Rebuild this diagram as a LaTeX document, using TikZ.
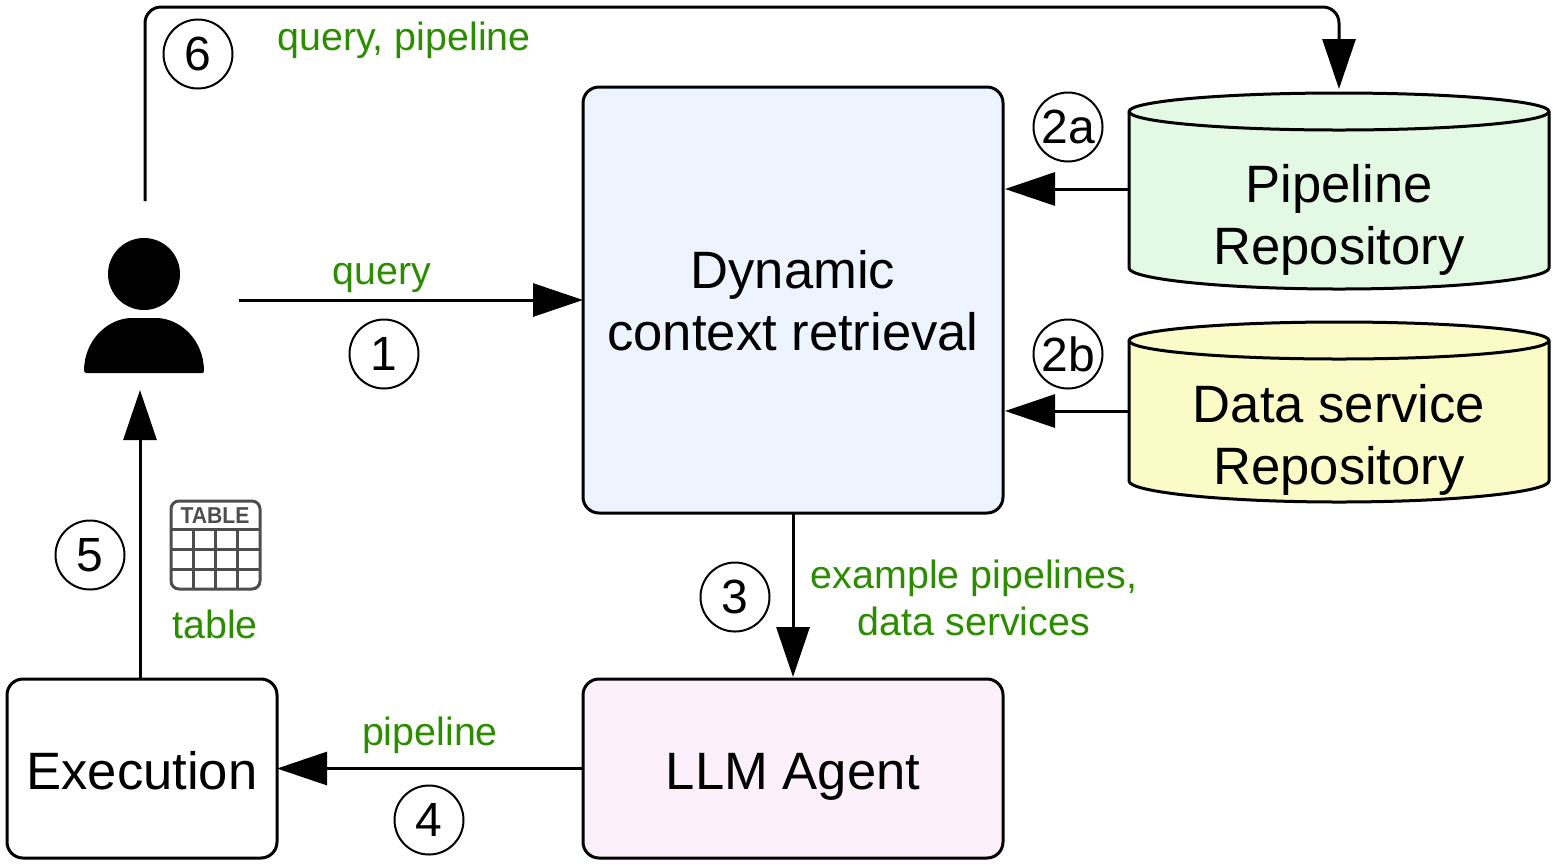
\documentclass[tikz,border=0pt]{standalone}
\usepackage{fontspec}
\setmainfont{Liberation Sans}
\usetikzlibrary{arrows.meta,calc}
\definecolor{lab}{HTML}{2B8C00}
\definecolor{ico}{HTML}{4D4D4D}
\definecolor{dynfill}{HTML}{EDF4FF}
\definecolor{pipefill}{HTML}{E3F9E3}
\definecolor{datafill}{HTML}{FBFBC8}
\definecolor{llmfill}{HTML}{FCF0FB}
\newcommand{\dbcyl}[3]{% fill colour, top y, bottom y
  \draw[line width=1.5pt,fill=#1,line join=round]
    (1129,#2+18.5) .. controls (1129,#2+8.3) and (1223,#2) .. (1339,#2)
    .. controls (1455,#2) and (1549,#2+8.3) .. (1549,#2+18.5)
    -- (1549,#3-21) .. controls (1549,#3-10) and (1455,#3) .. (1339,#3)
    .. controls (1223,#3) and (1129,#3-10) .. (1129,#3-21) -- cycle;
  \draw[line width=1.5pt]
    (1129,#2+18.5) .. controls (1129,#2+28.7) and (1223,#2+37) .. (1339,#2+37)
    .. controls (1455,#2+37) and (1549,#2+28.7) .. (1549,#2+18.5);
}
\tikzset{
  box/.style={draw,line width=1.5pt,rounded corners=8pt,outer sep=0pt,inner sep=0pt,align=center,font=\fontsize{26.3}{31}\selectfont},
  dbtext/.style={align=center,font=\fontsize{26.3}{31}\selectfont,inner sep=0pt},
  dbarea/.style={outer sep=0pt,inner sep=0pt,minimum width=210pt},
  num/.style={circle,draw,line width=1pt,fill=white,minimum size=34.5pt,inner sep=0pt,font=\fontsize{24}{24}\selectfont},
  lbl/.style={text=lab,align=center,inner sep=0pt,font=\fontsize{19.7}{23.5}\selectfont},
  conn/.style={line width=1.5pt,-{Triangle[length=25pt,width=16.5pt]}},
  icoline/.style={draw=ico,line width=1.5pt}
}
\begin{document}
\begin{tikzpicture}[x=0.5pt,y=-0.5pt]
\path[use as bounding box] (0,0) rectangle (1553,864);
\node[box,fill=dynfill,minimum width=210pt,minimum height=213pt] (dyn) at (793,300) {};
\node[inner sep=0pt,align=center,font=\fontsize{26.3}{31}\selectfont] (dynt) at (793,301) {Dynamic\\context retrieval};
\node[box,fill=llmfill,minimum width=210pt,minimum height=89.5pt] (llm) at (793,768.5) {};
\node[inner sep=0pt,font=\fontsize{26.3}{31}\selectfont] (llmt) at (793,777) {LLM Agent};
\node[box,fill=white,minimum width=135pt,minimum height=89.5pt] (exec) at (142,768.5) {};
\node[inner sep=0pt,font=\fontsize{26.3}{31}\selectfont] (exect) at (142,771) {Execution};
\dbcyl{pipefill}{93}{289}
\dbcyl{datafill}{322}{502}
\node[dbarea,minimum height=98pt] (pipe) at (1339,191) {};
\node[dbarea,minimum height=90pt] (data) at (1339,412) {};
\node[dbtext] (pipet) at (1339,220) {Pipeline\\Repository};
\node[dbtext] (datat) at (1339,440) {Data service\\Repository};
% person
\node[circle,fill=black,minimum size=36pt,inner sep=0pt] (head) at (144,274) {};
\fill (84,371) .. controls (84,340) and (108,318) .. (132,318) -- (156,318) .. controls (180,318) and (204,340) .. (204,371) -- (203,373) -- (86,373) -- cycle;
\coordinate (userout) at (239,300);
\coordinate (usertop) at (145,201);
\coordinate (userin) at (140,390);
% connectors
\draw[conn] (userout) -- (dyn.west |- userout);
\draw[conn,rounded corners=8pt] (usertop) |- ($(pipe.north)+(0,-86)$) -- ($(pipe.north)+(0,-4)$);
\draw[conn,shorten >=1pt] (pipe.west |- 0,189) -- (dyn.east |- 0,189);
\draw[conn,shorten >=1pt] (data.west |- 0,411) -- (dyn.east |- 0,411);
\draw[conn,shorten >=1pt] (dyn.south) -- (llm.north);
\draw[conn] (llm.west) -- (exec.east);
\draw[conn] ($(exec.north)+(-2,0)$) -- (userin);
% labels
\node[lbl] (l6) at (404,40) {query, pipeline};
\node[lbl] (l1) at (382,278) {query};
\node[lbl] (l3) at (974,598) {example pipelines,\\data services};
\node[lbl] (l4) at (430,735) {pipeline};
\node[lbl] (l5) at (215,624) {table};
% numbers
\node[num] (n6) at (198,54) {6};
\node[num] (n1) at (384,354) {1};
\node[num] (n2a) at (1068,127) {2a};
\node[num] (n2b) at (1068,354) {2b};
\node[num] (n3) at (735,597) {3};
\node[num] (n4) at (429,820) {4};
\node[num] (n5) at (90,555) {5};
% table icon
\draw[icoline,rounded corners=4pt] (171,501) rectangle (260,589);
\draw[icoline] (171,529) -- (260,529) (171,549) -- (260,549) (171,569) -- (260,569)
  (193,529) -- (193,589) (215,529) -- (215,589) (237,529) -- (237,589);
\node[text=ico,inner sep=0pt,xscale=0.92,font=\fontsize{11.5}{11.5}\bfseries\selectfont] (tabtxt) at (215,515.5) {TABLE};
\end{tikzpicture}
\end{document}
